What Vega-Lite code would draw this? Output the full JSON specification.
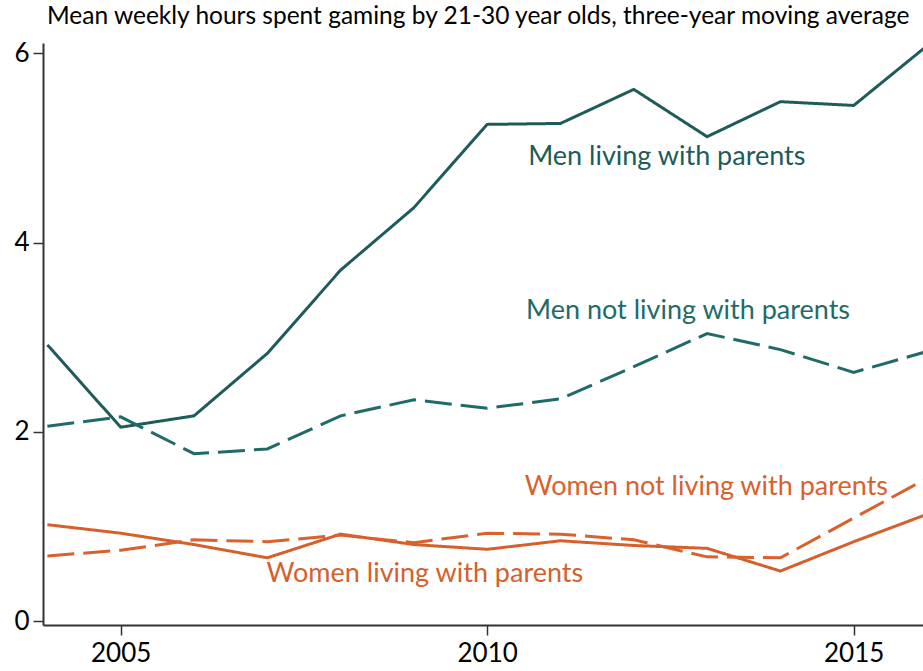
{
  "$schema": "https://vega.github.io/schema/vega-lite/v6.json",
  "autosize": {"type": "none"},
  "width": 884,
  "height": 582,
  "padding": {"left": 43, "top": 43, "right": 0, "bottom": 46},
  "background": "white",
  "title": {
    "text": "Mean weekly hours spent gaming by 21-30 year olds, three-year moving average",
    "anchor": "start",
    "frame": "group",
    "font": "Lato",
    "fontSize": 24.5,
    "fontWeight": "normal",
    "color": "#000000",
    "offset": 10,
    "dx": 4
  },
  "config": {"view": {"stroke": null}},
  "datasets": {
    "lines": [
      {"year": 2004, "value": 2.92, "series": "Men living with parents"},
      {"year": 2005, "value": 2.05, "series": "Men living with parents"},
      {"year": 2006, "value": 2.17, "series": "Men living with parents"},
      {"year": 2007, "value": 2.83, "series": "Men living with parents"},
      {"year": 2008, "value": 3.71, "series": "Men living with parents"},
      {"year": 2009, "value": 4.37, "series": "Men living with parents"},
      {"year": 2010, "value": 5.25, "series": "Men living with parents"},
      {"year": 2011, "value": 5.26, "series": "Men living with parents"},
      {"year": 2012, "value": 5.62, "series": "Men living with parents"},
      {"year": 2013, "value": 5.12, "series": "Men living with parents"},
      {"year": 2014, "value": 5.49, "series": "Men living with parents"},
      {"year": 2015, "value": 5.45, "series": "Men living with parents"},
      {"year": 2016, "value": 6.08, "series": "Men living with parents"},
      {"year": 2004, "value": 2.06, "series": "Men not living with parents"},
      {"year": 2005, "value": 2.16, "series": "Men not living with parents"},
      {"year": 2006, "value": 1.77, "series": "Men not living with parents"},
      {"year": 2007, "value": 1.82, "series": "Men not living with parents"},
      {"year": 2008, "value": 2.17, "series": "Men not living with parents"},
      {"year": 2009, "value": 2.34, "series": "Men not living with parents"},
      {"year": 2010, "value": 2.25, "series": "Men not living with parents"},
      {"year": 2011, "value": 2.35, "series": "Men not living with parents"},
      {"year": 2012, "value": 2.69, "series": "Men not living with parents"},
      {"year": 2013, "value": 3.04, "series": "Men not living with parents"},
      {"year": 2014, "value": 2.87, "series": "Men not living with parents"},
      {"year": 2015, "value": 2.63, "series": "Men not living with parents"},
      {"year": 2016, "value": 2.85, "series": "Men not living with parents"},
      {"year": 2004, "value": 1.02, "series": "Women living with parents"},
      {"year": 2005, "value": 0.93, "series": "Women living with parents"},
      {"year": 2006, "value": 0.81, "series": "Women living with parents"},
      {"year": 2007, "value": 0.67, "series": "Women living with parents"},
      {"year": 2008, "value": 0.92, "series": "Women living with parents"},
      {"year": 2009, "value": 0.81, "series": "Women living with parents"},
      {"year": 2010, "value": 0.76, "series": "Women living with parents"},
      {"year": 2011, "value": 0.85, "series": "Women living with parents"},
      {"year": 2012, "value": 0.80, "series": "Women living with parents"},
      {"year": 2013, "value": 0.77, "series": "Women living with parents"},
      {"year": 2014, "value": 0.53, "series": "Women living with parents"},
      {"year": 2015, "value": 0.84, "series": "Women living with parents"},
      {"year": 2016, "value": 1.13, "series": "Women living with parents"},
      {"year": 2004, "value": 0.69, "series": "Women not living with parents"},
      {"year": 2005, "value": 0.75, "series": "Women not living with parents"},
      {"year": 2006, "value": 0.86, "series": "Women not living with parents"},
      {"year": 2007, "value": 0.84, "series": "Women not living with parents"},
      {"year": 2008, "value": 0.91, "series": "Women not living with parents"},
      {"year": 2009, "value": 0.83, "series": "Women not living with parents"},
      {"year": 2010, "value": 0.93, "series": "Women not living with parents"},
      {"year": 2011, "value": 0.92, "series": "Women not living with parents"},
      {"year": 2012, "value": 0.86, "series": "Women not living with parents"},
      {"year": 2013, "value": 0.68, "series": "Women not living with parents"},
      {"year": 2014, "value": 0.67, "series": "Women not living with parents"},
      {"year": 2015, "value": 1.09, "series": "Women not living with parents"},
      {"year": 2016, "value": 1.51, "series": "Women not living with parents"}
    ],
    "labels": [
      {"year": 2012.45, "value": 4.91, "series": "Men living with parents"},
      {"year": 2012.74, "value": 3.28, "series": "Men not living with parents"},
      {"year": 2009.15, "value": 0.50, "series": "Women living with parents"},
      {"year": 2012.99, "value": 1.42, "series": "Women not living with parents"}
    ]
  },
  "layer": [
    {
      "data": {"name": "lines"},
      "mark": {"type": "line", "strokeWidth": 3, "strokeCap": "butt", "strokeJoin": "miter"},
      "encoding": {
        "x": {
          "field": "year", "type": "quantitative",
          "scale": {"domain": [2003.94, 2016], "nice": false, "zero": false},
          "axis": {
            "title": null, "values": [2005, 2010, 2015], "format": "d",
            "grid": false, "tickSize": 10, "tickWidth": 1.5, "domainWidth": 2,
            "domainColor": "#333333", "tickColor": "#333333",
            "labelFont": "Lato", "labelFontSize": 26, "labelColor": "#000000", "labelPadding": 5
          }
        },
        "y": {
          "field": "value", "type": "quantitative",
          "scale": {"domain": [-0.04, 6.11], "nice": false, "zero": false},
          "axis": {
            "title": null, "values": [0, 2, 4, 6], "format": "d",
            "grid": false, "tickSize": 10, "tickWidth": 1.5, "domainWidth": 2,
            "domainColor": "#333333", "tickColor": "#333333",
            "labelFont": "Lato", "labelFontSize": 26, "labelColor": "#000000", "labelPadding": 4
          }
        },
        "color": {
          "field": "series", "type": "nominal",
          "scale": {
            "domain": ["Men living with parents", "Men not living with parents", "Women living with parents", "Women not living with parents"],
            "range": ["#1d5c59", "#1f6b67", "#d5602c", "#d8612c"]
          },
          "legend": null
        },
        "strokeDash": {
          "field": "series", "type": "nominal",
          "scale": {
            "domain": ["Men living with parents", "Men not living with parents", "Women living with parents", "Women not living with parents"],
            "range": [[1, 0], [27, 9], [1, 0], [27, 9]]
          },
          "legend": null
        }
      }
    },
    {
      "data": {"name": "labels"},
      "mark": {"type": "text", "font": "Lato", "fontSize": 27, "align": "center", "baseline": "middle"},
      "encoding": {
        "x": {"field": "year", "type": "quantitative"},
        "y": {"field": "value", "type": "quantitative"},
        "text": {"field": "series"},
        "color": {
          "field": "series", "type": "nominal",
          "scale": {
            "domain": ["Men living with parents", "Men not living with parents", "Women living with parents", "Women not living with parents"],
            "range": ["#1d5c59", "#1f6b67", "#d5602c", "#d8612c"]
          },
          "legend": null
        }
      }
    }
  ]
}
